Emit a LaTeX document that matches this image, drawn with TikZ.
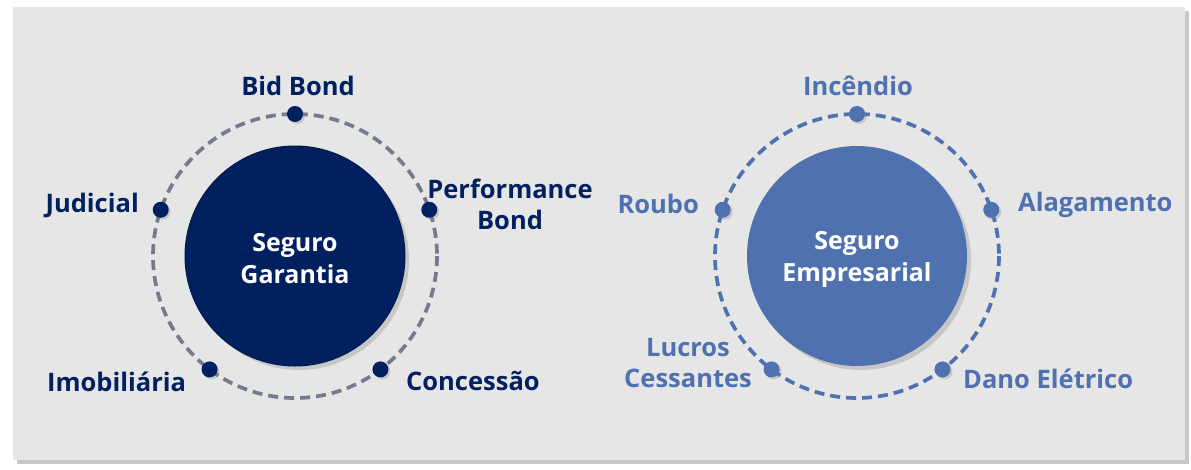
\documentclass[tikz,border=0pt]{standalone}
\usepackage{fontspec}
\setmainfont{Open Sans}
\usetikzlibrary{shadows,calc}
\definecolor{navy}{HTML}{002060}
\definecolor{ringgrey}{HTML}{767A8F}
\definecolor{steel}{HTML}{4F71AF}
\definecolor{bggrey}{HTML}{E6E6E6}
\tikzset{
  lbl/.style={font=\bfseries\fontsize{25.5}{31}\selectfont, inner sep=0pt, align=center},
  hub/.style={circle, minimum size=220pt, inner sep=0pt,
    drop shadow={shadow xshift=4pt, shadow yshift=-4pt, opacity=0.3}},
  hubtext/.style={text=white, align=center, inner sep=0pt,
    font=\bfseries\fontsize{25}{32}\selectfont},
  dotnode/.style={circle, minimum size=16pt, inner sep=0pt,
    drop shadow={shadow xshift=2pt, shadow yshift=-2pt, opacity=0.3}},
  ring/.style={line width=3.7pt, dash pattern=on 10pt off 6pt}
}
\begin{document}
\begin{tikzpicture}[x=1pt,y=-1pt]
\useasboundingbox (0,0) rectangle (1191,469);
% background panel with shadow
\fill[black!22] (17,11) rectangle (1189,464);
\fill[bggrey] (13,7) rectangle (1185,460);

% ---------- left group ----------
\coordinate (cL) at (295,256);
\draw[ring, ringgrey] (cL) circle[radius=142];
\node[hub, fill=navy, draw=navy!80!black, line width=1pt] (hubL) at (cL) {};
\node[hubtext] (hubLt) at ($(cL)+(0,3)$) {Seguro\\Garantia};
\node[dotnode, fill=navy] (dBid) at ($(cL)+(-90:142)$) {};
\node[dotnode, fill=navy] (dPerf) at ($(cL)+(-19:142)$) {};
\node[dotnode, fill=navy] (dJud) at ($(cL)+(-161:142)$) {};
\node[dotnode, fill=navy] (dImo) at ($(cL)+(127:142)$) {};
\node[dotnode, fill=navy] (dCon) at ($(cL)+(53:142)$) {};
\node[lbl, text=navy] (tBid) at (298,86) {Bid Bond};
\node[lbl, text=navy, anchor=east] (tJud) at (139,205) {Judicial};
\node[lbl, text=navy] (tPerf) at (510,204) {Performance\\Bond};
\node[lbl, text=navy, anchor=west] (tImo) at (47,382) {Imobiliária};
\node[lbl, text=navy, anchor=west] (tCon) at (406,381) {Concessão};

% ---------- right group ----------
\coordinate (cR) at (857,256);
\draw[ring, steel] (cR) circle[radius=142];
\node[hub, fill=steel] (hubR) at (cR) {};
\node[hubtext] (hubRt) at ($(cR)+(0,3)$) {Seguro\\Empresarial};
\node[dotnode, fill=steel] (dInc) at ($(cR)+(-90:142)$) {};
\node[dotnode, fill=steel] (dAla) at ($(cR)+(-19:142)$) {};
\node[dotnode, fill=steel] (dRou) at ($(cR)+(-161:142)$) {};
\node[dotnode, fill=steel] (dLuc) at ($(cR)+(127:142)$) {};
\node[dotnode, fill=steel] (dDan) at ($(cR)+(53:142)$) {};
\node[lbl, text=steel] (tInc) at (858,86) {Incêndio};
\node[lbl, text=steel, anchor=east] (tRou) at (699,204) {Roubo};
\node[lbl, text=steel, anchor=west] (tAla) at (1018,205) {Alagamento};
\node[lbl, text=steel] (tLuc) at (688,363) {Lucros\\Cessantes};
\node[lbl, text=steel, anchor=west] (tDan) at (963,379) {Dano Elétrico};
\end{tikzpicture}
\end{document}
